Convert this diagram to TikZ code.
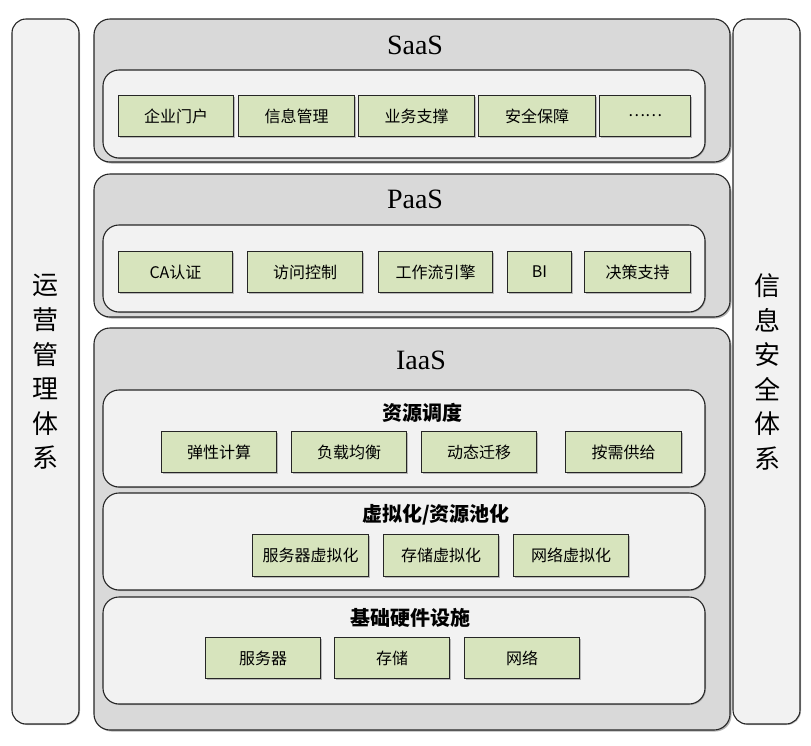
\documentclass[tikz,border=0pt]{standalone}
\usepackage{fontspec}
\setmainfont{Liberation Serif}
\newfontfamily\cjk{Noto Sans CJK SC}
\usetikzlibrary{shadows}
\definecolor{itemgreen}{HTML}{D7E4BD}
\definecolor{layergray}{HTML}{D9D9D9}
\definecolor{panelgray}{HTML}{F2F2F2}
\begin{document}
\begin{tikzpicture}[x=1pt,y=-1pt,
  base/.style={draw=black!85,line width=1.1pt,rounded corners=16pt,anchor=north west,inner sep=0pt,outer sep=0pt},
  side/.style={base,fill=panelgray,rounded corners=14pt,minimum width=67pt,minimum height=705pt,
    drop shadow={shadow xshift=1pt,shadow yshift=-1pt,opacity=0.5}},
  layer/.style={base,fill=layergray,minimum width=636pt,
    drop shadow={shadow xshift=1.5pt,shadow yshift=-1.5pt,opacity=0.6}},
  panel/.style={base,fill=panelgray,minimum width=602pt,
    drop shadow={shadow xshift=1pt,shadow yshift=-1pt,opacity=0.5}},
  item/.style={draw=black!85,line width=1pt,fill=itemgreen,anchor=north west,inner sep=0pt,
    minimum height=41pt,font=\cjk\fontsize{16}{16}\selectfont,
    drop shadow={shadow xshift=1pt,shadow yshift=-1pt,opacity=0.5}},
  ttl/.style={font=\fontsize{28}{28}\selectfont},
  sub/.style={font=\cjk\bfseries\fontsize{20}{20}\selectfont},
  vert/.style={font=\cjk\fontsize{26}{34.6}\selectfont,align=center}]
\fill[white] (0,0) rectangle (811,745);
\useasboundingbox (0,0) rectangle (811,745);
% side columns
\node[side] (ops) at (12,19) {};
\node[side] (sec) at (733,19) {};
\node[vert] (opsText) at (45.5,372) {运\\营\\管\\理\\体\\系};
\node[vert] (secText) at (767,372) {信\\息\\安\\全\\体\\系};
% SaaS
\node[layer,minimum height=143pt] (saas) at (94,19) {};
\node[ttl] (saasTitle) at (415,45) {SaaS};
\node[panel,minimum height=88pt] (saasPanel) at (103,70) {};
\node[item,minimum width=115pt] (portal) at (118,95) {企业门户};
\node[item,minimum width=116pt] (infoMgmt) at (238,95) {信息管理};
\node[item,minimum width=116pt] (bizSupport) at (358,95) {业务支撑};
\node[item,minimum width=117pt] (safety) at (478,95) {安全保障};
\node[item,minimum width=91pt] (more) at (599,95) {……};
% PaaS
\node[layer,minimum height=143pt] (paas) at (94,174) {};
\node[ttl] (paasTitle) at (415,199) {PaaS};
\node[panel,minimum height=87pt] (paasPanel) at (103,225) {};
\node[item,minimum width=114pt] (ca) at (118,251) {CA认证};
\node[item,minimum width=115pt] (access) at (247,251) {访问控制};
\node[item,minimum width=114pt] (workflow) at (378,251) {工作流引擎};
\node[item,minimum width=64pt] (bi) at (507,251) {BI};
\node[item,minimum width=106pt] (decision) at (584,251) {决策支持};
% IaaS
\node[layer,minimum height=402pt] (iaas) at (94,328) {};
\node[ttl] (iaasTitle) at (421,360) {IaaS};
\node[panel,minimum height=97pt] (schedPanel) at (103,390) {};
\node[sub] (schedTitle) at (422,413) {资源调度};
\node[item,minimum width=115pt] (elastic) at (161,431) {弹性计算};
\node[item,minimum width=115pt] (balance) at (291,431) {负载均衡};
\node[item,minimum width=115pt] (migrate) at (421,431) {动态迁移};
\node[item,minimum width=116pt] (ondemand) at (565,431) {按需供给};
\node[panel,minimum height=97pt] (virtPanel) at (103,493) {};
\node[sub] (virtTitle) at (436,515) {虚拟化/资源池化};
\node[item,minimum width=116pt,minimum height=42pt] (serverVirt) at (252,534) {服务器虚拟化};
\node[item,minimum width=115pt,minimum height=42pt] (storeVirt) at (383,534) {存储虚拟化};
\node[item,minimum width=115pt,minimum height=42pt] (netVirt) at (513,534) {网络虚拟化};
\node[panel,minimum height=107pt] (hwPanel) at (103,597) {};
\node[sub] (hwTitle) at (410,618) {基础硬件设施};
\node[item,minimum width=115pt] (server) at (205,637) {服务器};
\node[item,minimum width=115pt] (storage) at (334,637) {存储};
\node[item,minimum width=115pt] (network) at (464,637) {网络};
\end{tikzpicture}
\end{document}
